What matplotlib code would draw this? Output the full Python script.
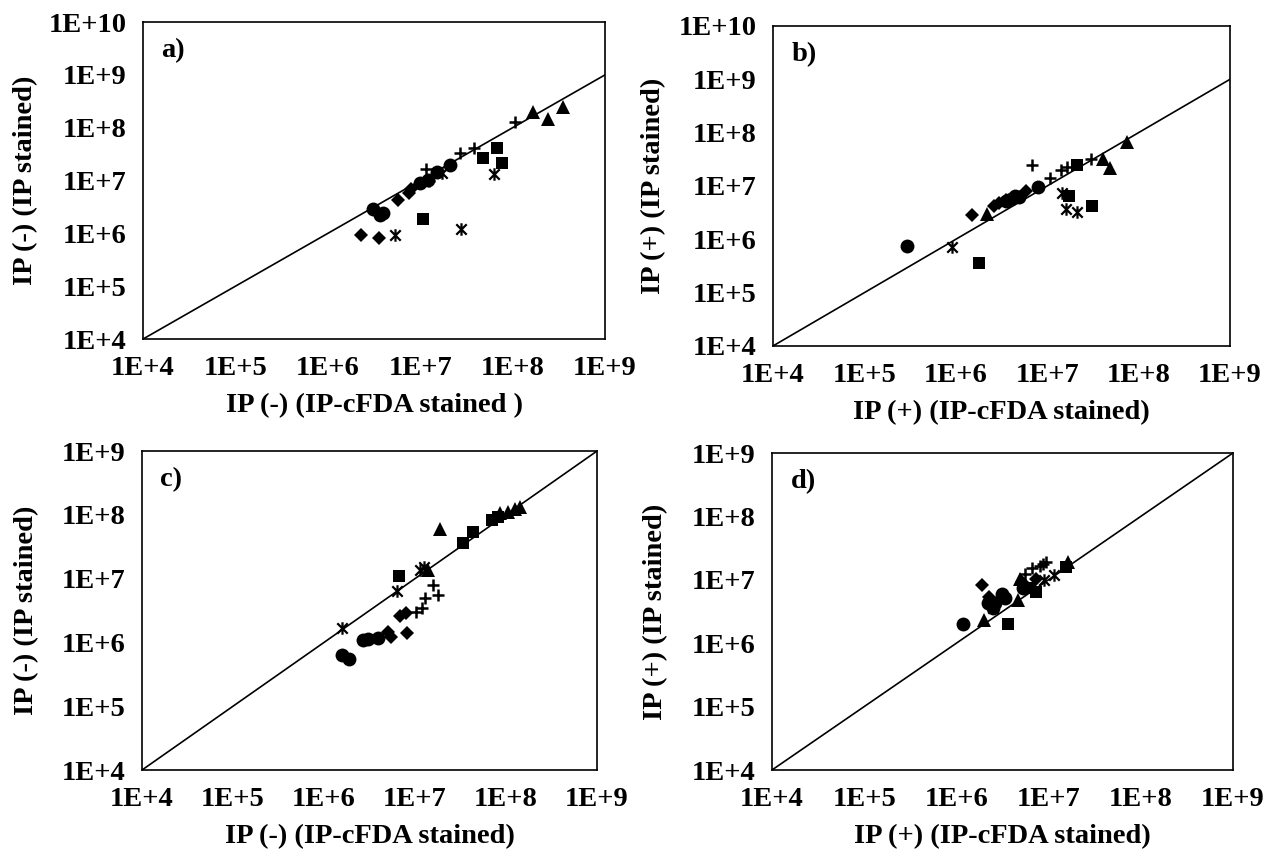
import matplotlib
matplotlib.use("Agg")
import matplotlib.pyplot as plt
import numpy as np
from matplotlib.path import Path
from matplotlib.ticker import FixedLocator, FuncFormatter, NullLocator

plt.rcParams["font.family"] = ["Liberation Serif", "DejaVu Serif"]
plt.rcParams["font.weight"] = "bold"

# panel a: IP(-), IP stained vs IP-cFDA stained
a_diamond_x = [2.3e6, 3.6e6, 5.8e6, 7.6e6, 8.0e6]
a_diamond_y = [9.3e5, 8.3e5, 4.3e6, 5.7e6, 7.0e6]
a_circle_x = [3.1e6, 4.0e6, 3.7e6, 1.0e7, 1.22e7, 1.53e7, 2.1e7]
a_circle_y = [2.85e6, 2.4e6, 2.2e6, 8.9e6, 1.02e7, 1.47e7, 1.94e7]
a_square_x = [1.06e7, 4.8e7, 6.8e7, 7.7e7]
a_square_y = [1.87e6, 2.63e7, 4.07e7, 2.17e7]
a_triangle_x = [1.68e8, 2.44e8, 3.5e8]
a_triangle_y = [2.0e8, 1.44e8, 2.43e8]
a_plus_x = [1.16e7, 1.25e7, 2.7e7, 3.82e7, 1.06e8]
a_plus_y = [1.63e7, 1.0e7, 3.27e7, 4.07e7, 1.26e8]
a_star_x = [5.3e6, 1.7e7, 2.74e7, 6.3e7]
a_star_y = [9.3e5, 1.37e7, 1.19e6, 1.31e7]

# panel b: IP(+)
b_diamond_x = [1.5e6, 2.6e6, 3.0e6, 3.5e6, 4.5e6, 5.8e6]
b_diamond_y = [2.9e6, 4.3e6, 4.8e6, 5.4e6, 6.0e6, 8.1e6]
b_circle_x = [2.9e5, 3.5e6, 4.0e6, 4.5e6, 4.9e6, 7.9e6]
b_circle_y = [7.5e5, 5.3e6, 5.6e6, 6.5e6, 6.1e6, 9.5e6]
b_square_x = [1.8e6, 1.75e7, 2.1e7, 3.1e7]
b_square_y = [3.65e5, 6.5e6, 2.45e7, 4.2e6]
b_triangle_x = [2.2e6, 4.05e7, 4.9e7, 7.5e7]
b_triangle_y = [3.0e6, 3.2e7, 2.15e7, 6.8e7]
b_plus_x = [6.8e6, 1.07e7, 1.4e7, 1.63e7, 3.0e7]
b_plus_y = [2.5e7, 1.39e7, 2.0e7, 2.24e7, 3.2e7]
b_star_x = [9.0e5, 1.45e7, 1.6e7, 2.1e7]
b_star_y = [7.3e5, 7.3e6, 3.65e6, 3.3e6]

# panel c: IP(-)
c_diamond_x = [5.0e6, 5.5e6, 6.8e6, 8.0e6, 8.1e6]
c_diamond_y = [1.47e6, 1.2e6, 2.6e6, 2.86e6, 1.39e6]
c_circle_x = [1.56e6, 1.9e6, 2.66e6, 3.07e6, 3.95e6]
c_circle_y = [6.3e5, 5.4e5, 1.09e6, 1.12e6, 1.16e6]
c_square_x = [6.7e6, 3.4e7, 4.3e7, 7.0e7, 8.2e7]
c_square_y = [1.1e7, 3.6e7, 5.4e7, 8.3e7, 9.1e7]
c_triangle_x = [1.4e7, 1.88e7, 8.6e7, 1.06e8, 1.26e8, 1.43e8]
c_triangle_y = [1.36e7, 6.1e7, 1.05e8, 1.12e8, 1.23e8, 1.34e8]
c_plus_x = [1.03e7, 1.18e7, 1.29e7, 1.58e7, 1.8e7]
c_plus_y = [3.0e6, 3.5e6, 4.9e6, 7.9e6, 5.5e6]
c_star_x = [1.56e6, 6.3e6, 1.13e7, 1.26e7]
c_star_y = [1.7e6, 6.5e6, 1.36e7, 1.54e7]

# panel d: IP(+)
d_diamond_x = [1.9e6, 2.27e6, 5.1e6, 7.3e6]
d_diamond_y = [8.4e6, 5.4e6, 9.3e6, 1.04e7]
d_circle_x = [1.17e6, 2.2e6, 2.5e6, 2.6e6, 3.1e6, 3.4e6, 5.3e6]
d_circle_y = [2.0e6, 4.3e6, 3.6e6, 4.3e6, 6.0e6, 5.1e6, 7.3e6]
d_square_x = [3.66e6, 6.3e6, 7.3e6, 1.56e7]
d_square_y = [2.0e6, 7.3e6, 6.5e6, 1.58e7]
d_triangle_x = [2.0e6, 4.7e6, 4.9e6, 1.64e7]
d_triangle_y = [2.3e6, 4.8e6, 1.04e7, 1.94e7]
d_plus_x = [5.5e6, 6.6e6, 8.1e6, 8.6e6, 9.4e6]
d_plus_y = [1.25e7, 1.53e7, 1.68e7, 1.8e7, 1.9e7]
d_star_x = [2.5e6, 8.95e6, 1.15e7]
d_star_y = [3.6e6, 9.8e6, 1.17e7]

# Excel style asterisk: an x with a vertical bar
STAR = Path(
    [(-1, -1), (1, 1), (-1, 1), (1, -1), (0, -1.2), (0, 1.2)],
    [Path.MOVETO, Path.LINETO, Path.MOVETO, Path.LINETO, Path.MOVETO, Path.LINETO],
)

STYLES = {
    "diamond": dict(marker="D", ms=7.5, mfc="black", mec="black", mew=0),
    "circle": dict(marker="o", ms=10, mfc="black", mec="black", mew=0),
    "square": dict(marker="s", ms=9, mfc="black", mec="black", mew=0),
    "triangle": dict(marker="^", ms=10.5, mfc="black", mec="black", mew=0),
    "plus": dict(marker="+", ms=9, mec="black", mew=1.8),
    "star": dict(marker=STAR, ms=9, mec="black", mew=1.6),
}


def tick_label(v, _pos):
    return f"1E+{int(round(np.log10(v)))}"


def draw_panel(ax, series, ymax, tag, xlabel, ylabel, ylab_x):
    ax.plot([1e4, 1e9], [1e4, 1e9], color="black", lw=1.2, zorder=2)
    for name, (xs, ys) in series.items():
        ax.plot(xs, ys, ls="none", zorder=3, **STYLES[name])
    ax.set_xscale("log")
    ax.set_yscale("log")
    ax.set_xlim(1e4, 1e9)
    ax.set_ylim(1e4, ymax)
    ax.xaxis.set_major_locator(FixedLocator([10.0 ** k for k in range(4, 10)]))
    ax.yaxis.set_major_locator(FixedLocator([10.0 ** k for k in range(4, int(np.log10(ymax)) + 1)]))
    ax.xaxis.set_minor_locator(NullLocator())
    ax.yaxis.set_minor_locator(NullLocator())
    ax.xaxis.set_major_formatter(FuncFormatter(tick_label))
    ax.yaxis.set_major_formatter(FuncFormatter(tick_label))
    ax.tick_params(length=0, labelsize=20.5, pad=12)
    for lab in ax.get_xticklabels() + ax.get_yticklabels():
        lab.set_fontweight("bold")
    for sp in ax.spines.values():
        sp.set_linewidth(1.2)
    ax.set_xlabel(xlabel, fontsize=20.5, fontweight="bold", labelpad=9)
    ax.set_ylabel(ylabel, fontsize=20.5, fontweight="bold")
    ax.yaxis.set_label_coords(ylab_x, 0.5)
    ax.text(0.04, 0.95, tag, transform=ax.transAxes, fontsize=20.5,
            fontweight="bold", ha="left", va="top")


fig = plt.figure(figsize=(12.77, 8.57), dpi=100)
ax_a = fig.add_axes([0.1120, 0.6044, 0.3618, 0.3699])
ax_b = fig.add_axes([0.6053, 0.5963, 0.3579, 0.3734])
ax_c = fig.add_axes([0.1112, 0.1015, 0.3563, 0.3722])
ax_d = fig.add_axes([0.6045, 0.1015, 0.3610, 0.3699])

draw_panel(ax_a, {
    "diamond": (a_diamond_x, a_diamond_y), "circle": (a_circle_x, a_circle_y),
    "square": (a_square_x, a_square_y), "triangle": (a_triangle_x, a_triangle_y),
    "plus": (a_plus_x, a_plus_y), "star": (a_star_x, a_star_y),
}, 1e10, "a)", "IP (-) (IP-cFDA stained )", "IP (-) (IP stained)", -0.227)

draw_panel(ax_b, {
    "diamond": (b_diamond_x, b_diamond_y), "circle": (b_circle_x, b_circle_y),
    "square": (b_square_x, b_square_y), "triangle": (b_triangle_x, b_triangle_y),
    "plus": (b_plus_x, b_plus_y), "star": (b_star_x, b_star_y),
}, 1e10, "b)", "IP (+) (IP-cFDA stained)", "IP (+) (IP stained)", -0.234)

draw_panel(ax_c, {
    "diamond": (c_diamond_x, c_diamond_y), "circle": (c_circle_x, c_circle_y),
    "square": (c_square_x, c_square_y), "triangle": (c_triangle_x, c_triangle_y),
    "plus": (c_plus_x, c_plus_y), "star": (c_star_x, c_star_y),
}, 1e9, "c)", "IP (-) (IP-cFDA stained)", "IP (-) (IP stained)", -0.226)

draw_panel(ax_d, {
    "diamond": (d_diamond_x, d_diamond_y), "circle": (d_circle_x, d_circle_y),
    "square": (d_square_x, d_square_y), "triangle": (d_triangle_x, d_triangle_y),
    "plus": (d_plus_x, d_plus_y), "star": (d_star_x, d_star_y),
}, 1e9, "d)", "IP (+) (IP-cFDA stained)", "IP (+) (IP stained)", -0.226)

fig.savefig("out.png", dpi=100, facecolor="white")
